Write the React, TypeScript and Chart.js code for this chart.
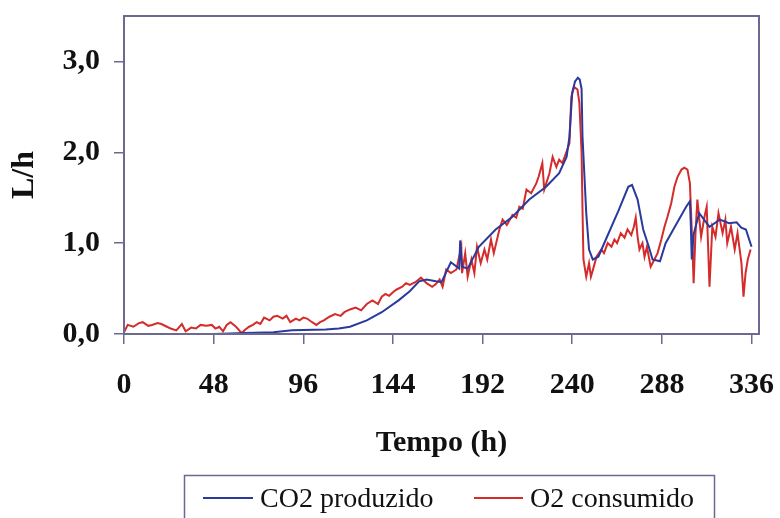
import React, { useEffect, useRef } from "react";
import { Chart, registerables } from "chart.js";

Chart.register(...registerables);

// ---------- data ----------
const seriesLabels = ["CO2 produzido", "O2 consumido"];
const xTicks = [0, 48, 96, 144, 192, 240, 288, 336];
const yTicks = [0, 1, 2, 3];
const yTickLabels = ["0,0", "1,0", "2,0", "3,0"];
const xTitle = "Tempo (h)";
const yTitle = "L/h";

const co2Time = [0, 24, 48, 65, 80, 90, 108, 115, 121, 130, 138, 147, 153, 158, 162, 167, 170, 175, 179.5, 180, 181, 184, 190, 199, 208, 217, 226, 233, 237, 238.5, 240, 241.5, 243, 244, 245, 245.5, 247.5, 249, 251, 254, 258, 265, 270, 272, 275, 278, 281, 283, 287, 290, 296, 301, 303, 303.5, 304, 305, 308, 313.5, 319, 324, 328, 330.5, 333, 336];
const co2Values = [0, 0, 0, 0.01, 0.02, 0.04, 0.05, 0.06, 0.08, 0.15, 0.24, 0.37, 0.47, 0.58, 0.6, 0.58, 0.57, 0.79, 0.72, 1.03, 0.74, 0.72, 0.96, 1.15, 1.29, 1.48, 1.62, 1.77, 1.95, 2.17, 2.66, 2.78, 2.82, 2.8, 2.7, 2.17, 1.33, 0.93, 0.82, 0.85, 1.04, 1.37, 1.62, 1.64, 1.48, 1.15, 0.96, 0.82, 0.8, 1.0, 1.22, 1.4, 1.46, 1.2, 0.82, 1.1, 1.33, 1.18, 1.26, 1.22, 1.23, 1.17, 1.15, 0.96];

const o2Time = [0, 2, 5, 8, 10, 13, 15, 18, 20, 23, 25, 28, 31, 33, 36, 38.5, 41, 44, 47, 49, 51, 53, 55, 57, 60, 63, 65, 67, 69, 71, 73, 75, 78, 80, 82, 85, 87, 89, 92, 94, 96, 98, 100, 103, 105, 107, 110, 113, 116, 118, 121, 124, 127, 130, 133, 136, 138, 140, 142, 144, 146, 149, 151, 153, 156, 159, 162, 165, 167, 169, 170.6, 172.5, 175, 178, 180.6, 181, 182.7, 184, 186, 187.6, 189, 191, 193, 194.5, 196.5, 198, 201, 202.7, 205, 208, 210, 211.7, 213.5, 215.5, 218, 220.8, 222, 224, 225, 227.8, 229.5, 231.5, 233, 234.7, 237, 238.5, 239.5, 241, 242.8, 243.8, 245, 245.5, 246, 247.5, 249, 250, 251, 253, 255.6, 257, 259, 261, 262.6, 264, 266, 268, 269.6, 271.6, 273, 274, 275, 276, 277.6, 278.7, 280, 282, 284, 285.7, 287.7, 289.4, 291, 293, 294.7, 296.4, 298.5, 300, 301.7, 303, 304.4, 305, 306, 307, 309, 310.8, 312, 313.5, 315, 316.7, 318.3, 320.5, 322, 323, 325, 327, 328.5, 330.6, 331.7, 332.8, 334, 335.5];
const o2Values = [0.02, 0.1, 0.08, 0.12, 0.13, 0.09, 0.1, 0.12, 0.11, 0.08, 0.06, 0.04, 0.11, 0.03, 0.07, 0.06, 0.1, 0.09, 0.1, 0.06, 0.08, 0.03, 0.1, 0.13, 0.08, 0.01, 0.05, 0.08, 0.1, 0.13, 0.11, 0.18, 0.15, 0.19, 0.2, 0.17, 0.2, 0.13, 0.17, 0.15, 0.18, 0.17, 0.14, 0.1, 0.13, 0.15, 0.19, 0.22, 0.2, 0.24, 0.27, 0.29, 0.26, 0.33, 0.37, 0.33, 0.41, 0.44, 0.42, 0.46, 0.49, 0.52, 0.56, 0.54, 0.57, 0.62, 0.56, 0.52, 0.55, 0.6, 0.52, 0.71, 0.67, 0.71, 0.96, 0.67, 0.89, 0.63, 0.82, 0.67, 0.96, 0.78, 0.93, 0.82, 1.04, 0.89, 1.15, 1.26, 1.2, 1.31, 1.28, 1.4, 1.38, 1.59, 1.55, 1.66, 1.73, 1.88, 1.59, 1.77, 1.95, 1.84, 1.92, 1.88, 2.01, 2.1, 2.61, 2.72, 2.69, 2.55, 2.0, 1.37, 0.82, 0.63, 0.78, 0.63, 0.7, 0.85, 0.93, 0.89, 1.0, 0.96, 1.04, 1.0, 1.11, 1.06, 1.15, 1.09, 1.18, 1.28, 1.07, 0.93, 1.0, 0.85, 0.96, 0.74, 0.82, 0.89, 1.04, 1.18, 1.29, 1.44, 1.62, 1.73, 1.81, 1.83, 1.81, 1.66, 0.93, 0.56, 1.11, 1.48, 1.07, 1.29, 1.4, 0.52, 1.18, 1.07, 1.33, 1.11, 1.26, 1.0, 1.18, 0.93, 1.11, 0.78, 0.41, 0.67, 0.82, 0.93];

// ---------- styles ----------
const frameColor = "#6c6890";
const seriesColors = ["#2a3a9c", "#d42b2b"];
const serif = "'Liberation Serif', 'Times New Roman', serif";

const zeroPadding = (scale: any) => {
  scale.paddingLeft = 0;
  scale.paddingRight = 0;
  scale.paddingTop = 0;
  scale.paddingBottom = 0;
};

const framePlugin = {
  id: "frameBox",
  afterDatasetsDraw(chart: any) {
    const { ctx, chartArea } = chart;
    ctx.save();
    ctx.strokeStyle = frameColor;
    ctx.lineWidth = 2;
    ctx.strokeRect(chartArea.left, chartArea.top, chartArea.right - chartArea.left, chartArea.bottom - chartArea.top);
    ctx.restore();
  },
};

const xTitlePlugin = {
  id: "xTitle",
  afterDraw(c: any) {
    const { ctx, chartArea } = c;
    ctx.save();
    ctx.font = `bold 30px ${serif}`;
    ctx.fillStyle = "#111";
    ctx.textAlign = "center";
    ctx.textBaseline = "alphabetic";
    ctx.fillText(xTitle, (chartArea.left + chartArea.right) / 2, 451);
    ctx.restore();
  },
};

const legendPlugin = {
  id: "boxedLegend",
  afterDraw(chart: any) {
    const { ctx } = chart;
    ctx.save();
    ctx.strokeStyle = frameColor;
    ctx.lineWidth = 1.5;
    ctx.strokeRect(184.5, 475.5, 530, 60);
    ctx.font = `28px ${serif}`;
    ctx.textBaseline = "alphabetic";
    ctx.textAlign = "left";
    const slots = [
      { x1: 203, x2: 253, tx: 260 },
      { x1: 474, x2: 523, tx: 530 },
    ];
    chart.data.datasets.forEach((ds: any, i: number) => {
      const s = slots[i];
      ctx.strokeStyle = ds.borderColor;
      ctx.lineWidth = 2;
      ctx.beginPath();
      ctx.moveTo(s.x1, 498);
      ctx.lineTo(s.x2, 498);
      ctx.stroke();
      ctx.fillStyle = "#111";
      ctx.fillText(ds.label, s.tx, 507);
    });
    ctx.restore();
  },
};

export default function App() {
  const ref = useRef<HTMLCanvasElement | null>(null);

  useEffect(() => {
    document.body.style.margin = "0";
    document.body.style.overflow = "hidden";
    const canvas = ref.current;
    if (!canvas) return;

    const datasets = [
      { label: seriesLabels[0], data: co2Time.map((t, i) => ({ x: t, y: co2Values[i] })), borderColor: seriesColors[0] },
      { label: seriesLabels[1], data: o2Time.map((t, i) => ({ x: t, y: o2Values[i] })), borderColor: seriesColors[1] },
    ].map((d) => ({
      ...d,
      backgroundColor: d.borderColor,
      borderWidth: 2,
      pointRadius: 0,
      tension: 0,
      fill: false,
    }));

    const chart = new Chart(canvas, {
      type: "line",
      data: { datasets },
      plugins: [framePlugin, xTitlePlugin, legendPlugin],
      options: {
        animation: false,
        responsive: false,
        devicePixelRatio: 1,
        layout: { padding: { top: 16, right: 21, bottom: 54, left: 0 } },
        plugins: {
          legend: { display: false },
          tooltip: { enabled: false },
        },
        scales: {
          x: {
            type: "linear",
            min: 0,
            max: 340,
            afterBuildTicks: (scale: any) => {
              scale.ticks = xTicks.map((v) => ({ value: v }));
            },
            afterFit: (scale: any) => {
              scale.height = 130;
              zeroPadding(scale);
            },
            ticks: {
              padding: 23,
              color: "#111",
              maxRotation: 0,
              autoSkip: false,
              font: { family: serif, size: 30, weight: "bold" },
              callback: (v: any) => String(v),
            },
            grid: { drawOnChartArea: false, drawTicks: true, tickLength: 10, color: frameColor, lineWidth: 1.5 },
            border: { display: false },
            title: { display: false },
          },
          y: {
            type: "linear",
            min: 0,
            max: 3.5,
            afterBuildTicks: (scale: any) => {
              scale.ticks = yTicks.map((v) => ({ value: v }));
            },
            afterFit: (scale: any) => {
              scale.width = 124;
              zeroPadding(scale);
            },
            ticks: {
              padding: 14,
              color: "#111",
              font: { family: serif, size: 30, weight: "bold" },
              callback: (v: any) => {
                const idx = yTicks.indexOf(Number(v));
                return idx >= 0 ? yTickLabels[idx] : "";
              },
            },
            grid: { drawOnChartArea: false, drawTicks: true, tickLength: 10, color: frameColor, lineWidth: 1.5 },
            border: { display: false },
            title: {
              display: true,
              text: yTitle,
              color: "#111",
              font: { family: serif, size: 32, weight: "bold" },
              padding: { top: 6, bottom: 0 },
            },
          },
        },
      },
    } as any);

    return () => chart.destroy();
  }, []);

  return <canvas ref={ref} width={780} height={518} style={{ display: "block", width: 780, height: 518 }} />;
}
